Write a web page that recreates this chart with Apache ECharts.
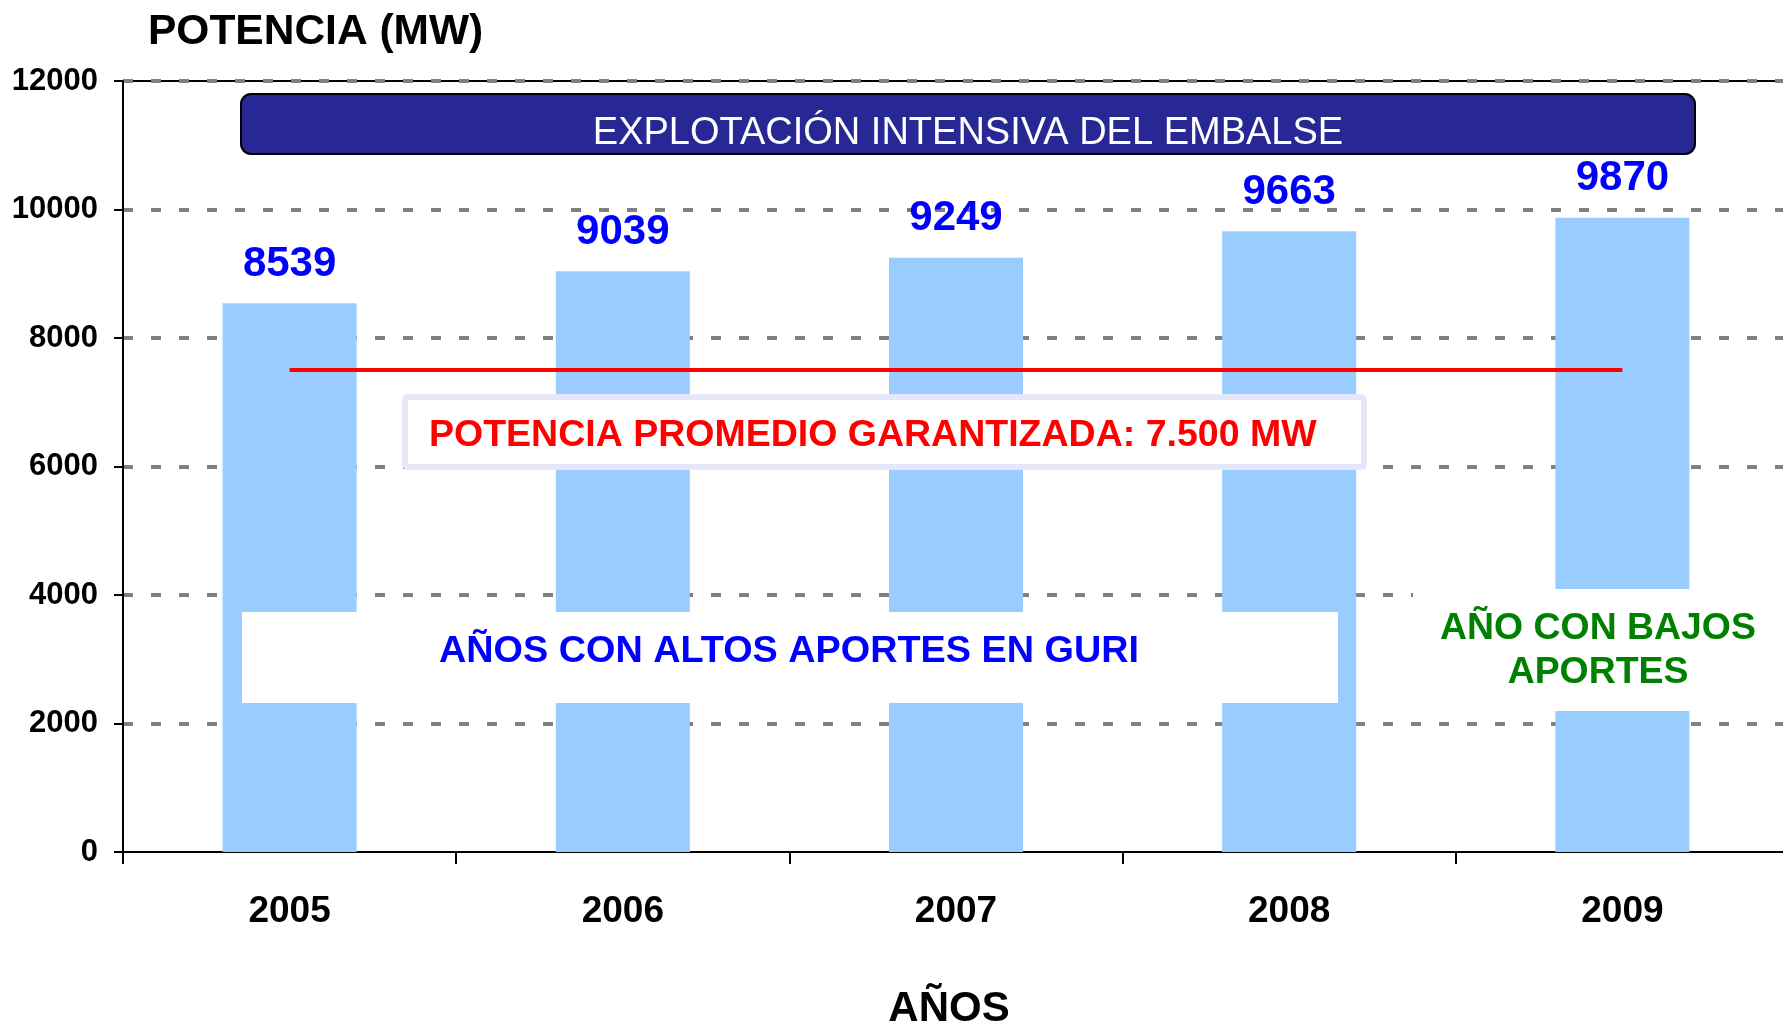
<!DOCTYPE html>
<html>
<head>
<meta charset="utf-8">
<script src="https://cdn.jsdelivr.net/npm/echarts@6/dist/echarts.min.js"></script>
<style>
html,body{margin:0;padding:0;background:#fff;}
#chart{width:1783px;height:1024px;}
</style>
</head>
<body>
<div id="chart"></div>
<script>
const years = ['2005', '2006', '2007', '2008', '2009'];
const potencia = [8539, 9039, 9249, 9663, 9870];
const garantizada = 7500;
const yMin = 0, yMax = 12000, yStep = 2000;

const FONT = 'Arial, "Liberation Sans", sans-serif';
const chart = echarts.init(document.getElementById('chart'));

chart.setOption({
  animation: false,
  backgroundColor: '#ffffff',
  grid: {
    left: 123, top: 81, width: 1666, bottom: 172,
    outerBoundsMode: 'none',
    containLabel: false,
    show: true, borderColor: '#000', borderWidth: 2, backgroundColor: 'transparent'
  },
  xAxis: {
    type: 'category',
    data: years,
    axisLine: { lineStyle: { color: '#000', width: 2 } },
    axisTick: { show: true, length: 12, lineStyle: { color: '#000', width: 2 } },
    axisLabel: { color: '#000', fontFamily: FONT, fontWeight: 'bold', fontSize: 37, margin: 41 },
    splitLine: { show: false }
  },
  yAxis: {
    type: 'value',
    min: yMin, max: yMax, interval: yStep,
    axisLine: { show: true, lineStyle: { color: '#000', width: 2 } },
    axisTick: { show: true, length: 9, lineStyle: { color: '#000', width: 2 } },
    axisLabel: { color: '#000', fontFamily: FONT, fontWeight: 'bold', fontSize: 31, margin: 25,
      formatter: function (v) { return String(v); } },
    splitLine: { show: true, showMinLine: false, lineStyle: { color: '#808080', width: 4, type: [10, 18] } }
  },
  series: [{
    type: 'bar',
    data: potencia,
    barWidth: 134,
    itemStyle: { color: '#99ccff' },
    label: {
      show: true, position: 'top', distance: 18,
      color: '#0000ff', fontFamily: FONT, fontWeight: 'bold', fontSize: 42
    },
    markLine: {
      silent: true,
      symbol: 'none',
      label: { show: false },
      lineStyle: { color: '#ff0000', width: 4, type: 'solid' },
      data: [[{ coord: [years[0], garantizada] }, { coord: [years[years.length - 1], garantizada] }]]
    }
  }],
  graphic: [
    { type: 'rect', z: 10, shape: { x: 241, y: 94, width: 1454, height: 60, r: 10 },
      style: { fill: '#282894', stroke: '#000', lineWidth: 2 } },
    { type: 'text', z: 11, x: 968, y: 134,
      style: { text: 'EXPLOTACIÓN INTENSIVA DEL EMBALSE', fill: '#fff', font: '38px ' + FONT, align: 'center', verticalAlign: 'middle' } },
    { type: 'rect', z: 10, shape: { x: 405, y: 397, width: 959, height: 70, r: 3 },
      style: { fill: '#fff', stroke: '#e6e6fa', lineWidth: 6 } },
    { type: 'text', z: 11, x: 429, y: 436,
      style: { text: 'POTENCIA PROMEDIO GARANTIZADA: 7.500 MW', fill: '#ff0000', font: 'bold 37.5px ' + FONT, align: 'left', verticalAlign: 'middle' } },
    { type: 'rect', z: 10, shape: { x: 242, y: 612, width: 1096, height: 91 },
      style: { fill: '#fff' } },
    { type: 'text', z: 11, x: 789, y: 652,
      style: { text: 'AÑOS CON ALTOS APORTES EN GURI', fill: '#0000ff', font: 'bold 37.8px ' + FONT, align: 'center', verticalAlign: 'middle' } },
    { type: 'rect', z: 10, shape: { x: 1413, y: 589, width: 380, height: 122 },
      style: { fill: '#fff' } },
    { type: 'text', z: 11, x: 1598, y: 651,
      style: { text: 'AÑO CON BAJOS\nAPORTES', fill: '#008000', font: 'bold 37.4px ' + FONT, lineHeight: 44, align: 'center', verticalAlign: 'middle' } },
    { type: 'text', z: 11, x: 148, y: 32,
      style: { text: 'POTENCIA (MW)', fill: '#000', font: 'bold 42.5px ' + FONT, align: 'left', verticalAlign: 'middle' } },
    { type: 'text', z: 11, x: 949, y: 1009,
      style: { text: 'AÑOS', fill: '#000', font: 'bold 42px ' + FONT, align: 'center', verticalAlign: 'middle' } }
  ]
});
</script>
</body>
</html>
